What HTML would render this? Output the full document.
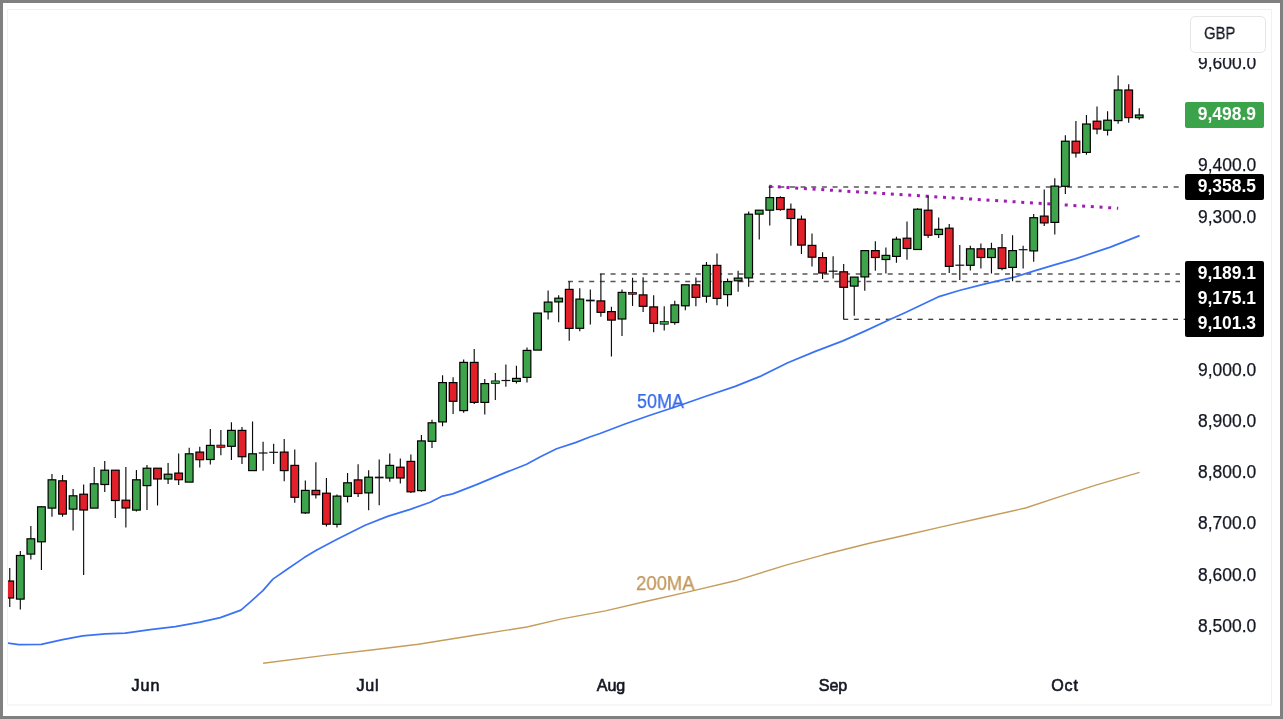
<!DOCTYPE html>
<html><head><meta charset="utf-8">
<style>
html,body{margin:0;padding:0;background:#fff;}
body{width:1283px;height:719px;position:relative;overflow:hidden;font-family:"Liberation Sans",sans-serif;}
#frame{position:absolute;left:0;top:0;width:1277px;height:713px;border:3px solid #808080;}
#inner{position:absolute;left:6.5px;top:8.5px;width:1263px;height:694.5px;border:2px solid #f8f8f8;}
.tm,.ax,.lb,.ma,.gt{will-change:transform;}
.il{position:absolute;background:#f1f1f1;}
#chart{position:absolute;left:0;top:0;}
.ax{position:absolute;left:1197.6px;width:60px;font-size:17.45px;line-height:20px;color:#131722;white-space:nowrap;-webkit-text-stroke:0.25px #131722;}
.lb{position:absolute;left:1185px;width:79px;height:25.5px;background:#000;color:#fff;font-weight:bold;font-size:17.45px;line-height:25px;white-space:nowrap;}
.lb span{position:absolute;left:12.8px;top:0.2px;}
.tm{position:absolute;top:675px;width:60px;margin-left:-30px;text-align:center;font-weight:normal;-webkit-text-stroke:0.6px #131722;font-size:16.1px;line-height:20px;color:#131722;}
.ma{position:absolute;font-size:19.7px;line-height:20px;white-space:nowrap;transform:scaleX(0.94);transform-origin:0 0;}
</style></head><body>
<div id="frame"></div><div class="il" style="left:7px;top:9px;width:1265px;height:1px;"></div><div class="il" style="left:7px;top:9px;width:1px;height:696px;"></div><div class="il" style="left:1271px;top:9px;width:1px;height:696px;"></div><div class="il" style="left:7px;top:704px;width:1265px;height:2px;background:#f7f7f7;"></div>
<svg id="chart" width="1283" height="719" viewBox="0 0 1283 719">
<defs><clipPath id="cp"><rect x="8" y="10" width="1180" height="694"/></clipPath></defs>
<g clip-path="url(#cp)">
<g fill="none" stroke="#555" stroke-width="1.5" stroke-dasharray="5 5.66">
<path d="M768.6 187 H1180"/>
<path d="M599.9 274.1 H1180"/>
<path d="M567.9 281.6 H1180"/>
</g>
<path d="M843.2 319.2 H1186" fill="none" stroke="#000" stroke-width="1.15" stroke-dasharray="5 5.64"/>
<path d="M769.1 186.3 L1118.2 208.3" fill="none" stroke="#a01cb4" stroke-width="3" stroke-dasharray="3 5.712"/>
<path d="M263.1 663.3 L324.8 655.4 L373.5 649.8 L418.4 644.2 L474.5 635.2 L526.9 627.0 L560.5 619.1 L605.4 610.9 L646.6 601.2 L691.5 591.1 L737.4 580.2 L786.0 565.2 L823.5 554.8 L868.4 543.5 L909.5 534.2 L939.4 527.4 L984.3 517.3 L1025.5 508.0 L1059.1 496.8 L1096.6 484.8 L1139.6 472.4" fill="none" stroke="#c59d5b" stroke-width="1.4" stroke-linejoin="round"/>
<path d="M8.0 643.2 L18.8 644.7 L41.3 644.4 L62.6 639.7 L82.6 635.9 L105.2 633.9 L125.2 633.2 L150.2 629.7 L175.3 626.7 L200.3 622.2 L220.3 617.6 L240.9 610.1 L250.4 601.9 L262.9 590.6 L272.9 579.1 L287.9 568.8 L304.2 557.6 L316.3 550.2 L337.6 539.0 L365.1 525.2 L387.6 516.4 L410.2 509.4 L430.2 502.2 L441.5 496.4 L452.7 493.9 L475.3 485.1 L505.3 472.6 L526.6 464.3 L540.4 456.8 L556.6 448.8 L575.4 442.6 L590.4 436.8 L600.0 433.5 L625.0 424.0 L650.0 415.2 L675.1 407.0 L705.2 396.5 L735.2 386.4 L760.2 376.4 L787.8 362.7 L815.3 351.4 L842.9 340.9 L865.4 330.9 L890.4 319.3 L905.0 312.7 L938.1 296.9 L960.1 290.2 L985.2 283.9 L1015.2 276.9 L1035.2 270.6 L1055.3 264.6 L1075.3 258.9 L1095.3 252.1 L1110.3 247.1 L1139.6 235.6" fill="none" stroke="#3a72f6" stroke-width="1.7" stroke-linejoin="round"/>
<path d="M9.75 568.0V607.0M20.31 551.0V609.5M30.86 526.0V559.5M41.42 506.0V570.0M51.97 474.0V516.7M62.53 475.0V516.7M73.09 489.0V530.5M83.64 484.5V575.0M94.20 467.0V508.0M104.75 461.0V492.0M115.31 470.5V518.0M125.87 467.0V527.5M136.42 470.0V511.6M146.98 465.0V510.0M157.53 468.5V505.6M168.09 463.0V484.0M178.65 453.4V485.0M189.20 447.8V482.0M199.76 446.7V467.4M210.31 429.0V464.5M220.87 430.0V455.2M231.43 422.3V460.0M241.98 427.0V463.9M252.54 421.6V470.5M263.09 441.8V470.8M273.65 443.8V464.0M284.21 439.0V481.2M294.76 449.6V502.8M305.32 480.5V514.0M315.87 462.3V498.6M326.43 477.9V526.4M336.99 494.6V527.5M347.54 473.0V502.6M358.10 464.2V496.9M368.65 470.2V510.2M379.21 459.5V505.2M389.77 453.5V481.7M400.32 458.6V483.5M410.88 454.6V493.0M421.43 435.0V491.8M431.99 419.7V448.0M442.55 375.2V426.3M453.10 377.2V414.1M463.66 359.6V412.8M474.21 348.9V403.9M484.77 378.9V414.5M495.33 372.9V400.0M505.88 364.5V386.7M516.44 365.7V383.5M526.99 347.5V382.4M537.55 313.4V350.1M548.11 290.5V319.4M558.66 295.2V322.3M569.22 281.6V340.8M579.77 288.3V331.2M590.33 289.4V324.6M600.89 273.8V316.8M611.44 306.8V356.4M622.00 289.4V336.1M632.55 277.8V306.1M643.11 277.2V311.9M653.67 295.2V332.3M664.22 306.3V330.6M674.78 300.8V324.7M685.33 285.0V310.2M695.89 277.5V306.2M706.45 261.9V302.8M717.00 253.4V305.3M727.56 278.4V306.4M738.11 270.8V291.7M748.67 211.6V286.8M759.23 210.5V239.6M769.78 186.2V225.6M780.34 196.3V210.7M790.89 203.4V245.7M801.45 215.6V253.9M812.01 233.4V266.4M822.56 252.3V279.0M833.12 256.3V278.4M843.67 264.1V319.1M854.23 277.4V315.7M864.79 250.8V290.8M875.34 241.2V270.8M885.90 247.4V273.5M896.45 236.8V262.8M907.01 221.6V259.7M917.57 208.3V249.4M928.12 195.6V237.9M938.68 217.4V237.9M949.23 224.1V273.0M959.79 245.0V280.1M970.35 245.7V270.6M980.90 243.4V268.6M991.46 242.8V273.5M1002.01 233.9V270.2M1012.57 235.3V281.3M1023.13 245.7V268.6M1033.68 213.9V261.7M1044.24 189.6V226.1M1054.79 178.3V234.6M1065.35 135.2V193.9M1075.91 120.9V157.5M1086.46 115.1V154.7M1097.02 106.4V134.3M1107.57 111.2V135.4M1118.13 75.4V123.8M1128.69 84.2V122.8M1139.24 108.2V119.8" fill="none" stroke="#0c0c0c" stroke-width="1.15"/>
<g stroke="#000" stroke-width="1.2"><rect x="5.90" y="581.0" width="7.7" height="17.0" fill="#e2202a"/><rect x="16.46" y="555.5" width="7.7" height="43.6" fill="#3ea44b"/><rect x="27.01" y="538.8" width="7.7" height="15.3" fill="#3ea44b"/><rect x="37.57" y="506.8" width="7.7" height="35.0" fill="#3ea44b"/><rect x="48.12" y="479.8" width="7.7" height="28.3" fill="#3ea44b"/><rect x="58.68" y="480.8" width="7.7" height="33.3" fill="#e2202a"/><rect x="69.24" y="495.8" width="7.7" height="13.3" fill="#3ea44b"/><rect x="79.79" y="494.2" width="7.7" height="15.8" fill="#e2202a"/><rect x="90.35" y="483.8" width="7.7" height="24.3" fill="#3ea44b"/><rect x="100.90" y="470.2" width="7.7" height="14.3" fill="#3ea44b"/><rect x="111.46" y="470.2" width="7.7" height="30.3" fill="#e2202a"/><rect x="122.02" y="500.2" width="7.7" height="7.8" fill="#e2202a"/><rect x="132.57" y="479.8" width="7.7" height="30.3" fill="#3ea44b"/><rect x="143.13" y="468.2" width="7.7" height="17.4" fill="#3ea44b"/><rect x="153.68" y="468.2" width="7.7" height="10.8" fill="#e2202a"/><rect x="164.24" y="474.2" width="7.7" height="4.8" fill="#3ea44b"/><rect x="174.80" y="473.1" width="7.7" height="6.6" fill="#e2202a"/><rect x="185.35" y="453.8" width="7.7" height="28.3" fill="#3ea44b"/><rect x="195.91" y="452.1" width="7.7" height="7.6" fill="#e2202a"/><rect x="206.46" y="445.4" width="7.7" height="14.1" fill="#3ea44b"/><rect x="216.82" y="445.10" width="8.1" height="2.20" fill="#e2202a" stroke-width="0.7"/><rect x="227.58" y="430.4" width="7.7" height="15.9" fill="#3ea44b"/><rect x="238.13" y="430.4" width="7.7" height="26.3" fill="#e2202a"/><rect x="248.69" y="453.8" width="7.7" height="16.8" fill="#3ea44b"/><path d="M258.69 453.0H267.49" stroke="#111" stroke-width="1.2"/><path d="M269.25 452.3H278.05" stroke="#111" stroke-width="1.2"/><rect x="280.36" y="452.1" width="7.7" height="18.5" fill="#e2202a"/><rect x="290.91" y="465.4" width="7.7" height="31.9" fill="#e2202a"/><rect x="301.47" y="490.4" width="7.7" height="22.5" fill="#3ea44b"/><rect x="312.02" y="490.4" width="7.7" height="4.3" fill="#e2202a"/><rect x="322.58" y="493.2" width="7.7" height="31.0" fill="#e2202a"/><rect x="333.14" y="496.1" width="7.7" height="28.2" fill="#3ea44b"/><rect x="343.69" y="482.8" width="7.7" height="13.5" fill="#3ea44b"/><rect x="354.25" y="479.9" width="7.7" height="13.6" fill="#e2202a"/><rect x="364.80" y="477.2" width="7.7" height="15.7" fill="#3ea44b"/><path d="M374.81 477.5H383.61" stroke="#111" stroke-width="1.7"/><rect x="385.92" y="465.4" width="7.7" height="12.6" fill="#3ea44b"/><rect x="396.47" y="467.2" width="7.7" height="10.8" fill="#e2202a"/><rect x="407.03" y="461.4" width="7.7" height="30.4" fill="#e2202a"/><rect x="417.58" y="440.9" width="7.7" height="49.7" fill="#3ea44b"/><rect x="428.14" y="422.8" width="7.7" height="18.5" fill="#3ea44b"/><rect x="438.70" y="382.6" width="7.7" height="39.3" fill="#3ea44b"/><rect x="449.25" y="382.6" width="7.7" height="18.7" fill="#e2202a"/><rect x="459.81" y="362.4" width="7.7" height="48.2" fill="#3ea44b"/><rect x="470.36" y="362.4" width="7.7" height="40.0" fill="#e2202a"/><rect x="480.92" y="383.6" width="7.7" height="18.8" fill="#3ea44b"/><rect x="491.28" y="380.90" width="8.1" height="2.60" fill="#3ea44b" stroke-width="0.7"/><path d="M501.48 380.5H510.28" stroke="#111" stroke-width="1.2"/><rect x="512.59" y="378.4" width="7.7" height="3.0" fill="#3ea44b"/><rect x="523.14" y="350.4" width="7.7" height="27.0" fill="#3ea44b"/><rect x="533.70" y="313.1" width="7.7" height="37.0" fill="#3ea44b"/><rect x="544.26" y="302.1" width="7.7" height="9.7" fill="#3ea44b"/><rect x="554.81" y="298.2" width="7.7" height="3.7" fill="#3ea44b"/><rect x="565.37" y="289.4" width="7.7" height="39.0" fill="#e2202a"/><rect x="575.92" y="299.1" width="7.7" height="29.2" fill="#3ea44b"/><path d="M585.93 300.5H594.73" stroke="#111" stroke-width="1.7"/><rect x="597.04" y="300.9" width="7.7" height="11.4" fill="#e2202a"/><rect x="607.59" y="311.6" width="7.7" height="8.5" fill="#e2202a"/><rect x="618.15" y="292.4" width="7.7" height="26.6" fill="#3ea44b"/><rect x="628.50" y="292.35" width="8.1" height="1.90" fill="#e2202a" stroke-width="0.7"/><rect x="639.26" y="294.9" width="7.7" height="11.4" fill="#e2202a"/><rect x="649.82" y="306.9" width="7.7" height="16.5" fill="#e2202a"/><rect x="660.17" y="321.60" width="8.1" height="2.60" fill="#3ea44b" stroke-width="0.7"/><rect x="670.93" y="304.9" width="7.7" height="17.6" fill="#3ea44b"/><rect x="681.48" y="284.8" width="7.7" height="21.0" fill="#3ea44b"/><rect x="692.04" y="284.8" width="7.7" height="12.6" fill="#e2202a"/><rect x="702.60" y="265.4" width="7.7" height="30.8" fill="#3ea44b"/><rect x="713.15" y="265.4" width="7.7" height="33.0" fill="#e2202a"/><rect x="723.71" y="281.6" width="7.7" height="13.0" fill="#3ea44b"/><rect x="734.26" y="278.1" width="7.7" height="2.7" fill="#3ea44b"/><rect x="744.82" y="214.2" width="7.7" height="63.7" fill="#3ea44b"/><rect x="755.38" y="210.2" width="7.7" height="3.9" fill="#3ea44b"/><rect x="765.93" y="197.6" width="7.7" height="12.6" fill="#3ea44b"/><rect x="776.49" y="197.6" width="7.7" height="11.9" fill="#e2202a"/><rect x="787.04" y="209.3" width="7.7" height="9.2" fill="#e2202a"/><rect x="797.60" y="219.2" width="7.7" height="25.9" fill="#e2202a"/><rect x="808.16" y="245.4" width="7.7" height="11.8" fill="#e2202a"/><rect x="818.71" y="257.6" width="7.7" height="15.4" fill="#e2202a"/><path d="M828.72 271.2H837.52" stroke="#111" stroke-width="1.2"/><rect x="839.82" y="271.8" width="7.7" height="15.5" fill="#e2202a"/><rect x="850.38" y="277.1" width="7.7" height="9.0" fill="#3ea44b"/><rect x="860.94" y="250.6" width="7.7" height="26.3" fill="#3ea44b"/><rect x="871.49" y="250.6" width="7.7" height="6.9" fill="#e2202a"/><rect x="882.05" y="255.4" width="7.7" height="4.1" fill="#3ea44b"/><rect x="892.60" y="239.2" width="7.7" height="17.2" fill="#3ea44b"/><rect x="903.16" y="238.2" width="7.7" height="10.3" fill="#e2202a"/><rect x="913.72" y="209.2" width="7.7" height="40.3" fill="#3ea44b"/><rect x="924.27" y="210.2" width="7.7" height="25.0" fill="#e2202a"/><rect x="934.83" y="229.3" width="7.7" height="5.2" fill="#3ea44b"/><rect x="945.38" y="228.2" width="7.7" height="38.2" fill="#e2202a"/><path d="M955.39 265.2H964.19" stroke="#111" stroke-width="1.2"/><rect x="966.50" y="248.8" width="7.7" height="16.5" fill="#3ea44b"/><rect x="977.05" y="248.8" width="7.7" height="8.7" fill="#e2202a"/><rect x="987.61" y="248.8" width="7.7" height="8.7" fill="#3ea44b"/><rect x="998.16" y="247.7" width="7.7" height="20.8" fill="#e2202a"/><rect x="1008.72" y="250.6" width="7.7" height="16.8" fill="#3ea44b"/><path d="M1018.73 249.7H1027.53" stroke="#111" stroke-width="1.2"/><rect x="1029.83" y="217.7" width="7.7" height="33.2" fill="#3ea44b"/><rect x="1040.39" y="216.1" width="7.7" height="6.8" fill="#e2202a"/><rect x="1050.94" y="186.1" width="7.7" height="36.3" fill="#3ea44b"/><rect x="1061.50" y="141.2" width="7.7" height="45.1" fill="#3ea44b"/><rect x="1072.06" y="141.2" width="7.7" height="11.8" fill="#e2202a"/><rect x="1082.61" y="124.0" width="7.7" height="28.4" fill="#3ea44b"/><rect x="1093.17" y="121.2" width="7.7" height="7.8" fill="#e2202a"/><rect x="1103.72" y="120.2" width="7.7" height="10.0" fill="#3ea44b"/><rect x="1114.28" y="90.0" width="7.7" height="30.6" fill="#3ea44b"/><rect x="1124.84" y="90.0" width="7.7" height="27.6" fill="#e2202a"/><rect x="1135.39" y="115.0" width="7.7" height="2.7" fill="#3ea44b"/></g>
</g>
</svg>
<div class="ma" style="left:636.9px;top:391px;transform:scaleX(0.912);color:#3468ea;-webkit-text-stroke:0.25px #3468ea;">50MA</div>
<div class="ma" style="left:635.8px;top:573px;color:#c1975a;-webkit-text-stroke:0.25px #c1975a;">200MA</div>

<div class="ax" style="top:53px;">9,600.0</div>
<div class="ax" style="top:155px;">9,400.0</div>
<div class="ax" style="top:207px;">9,300.0</div>
<div class="ax" style="top:360px;">9,000.0</div>
<div class="ax" style="top:411px;">8,900.0</div>
<div class="ax" style="top:462px;">8,800.0</div>
<div class="ax" style="top:513px;">8,700.0</div>
<div class="ax" style="top:565px;">8,600.0</div>
<div class="ax" style="top:616px;">8,500.0</div>

<div id="gbpbg" style="position:absolute;left:1186px;top:11px;width:83px;height:47px;background:#fff;"></div>
<div id="gbp" style="position:absolute;left:1190px;top:15.5px;width:74px;height:35px;border:1px solid #e6e6e6;border-radius:5px;box-sizing:content-box;"></div>
<div class="gt" style="position:absolute;left:1203.6px;top:22.9px;font-size:16.5px;line-height:20px;color:#131722;transform:scaleX(0.9);transform-origin:0 0;-webkit-text-stroke:0.3px #131722;">GBP</div>

<div class="lb" style="top:102.3px;height:26.2px;background:#3ba34a;border-radius:2px;width:78.5px;"><span>9,498.9</span></div>
<div class="lb" style="top:174px;border-radius:2px;"><span>9,358.5</span></div>
<div class="lb" style="top:260.7px;border-radius:2px 2px 0 0;"><span>9,189.1</span></div>
<div class="lb" style="top:285.9px;"><span>9,175.1</span></div>
<div class="lb" style="top:311.1px;border-radius:0 0 2px 2px;"><span>9,101.3</span></div>

<div class="tm" style="left:146.4px;letter-spacing:1px;">Jun</div>
<div class="tm" style="left:368.4px;letter-spacing:0.8px;">Jul</div>
<div class="tm" style="left:611.4px;">Aug</div>
<div class="tm" style="left:832.7px;">Sep</div>
<div class="tm" style="left:1065.2px;letter-spacing:0.8px;">Oct</div>
</body></html>
